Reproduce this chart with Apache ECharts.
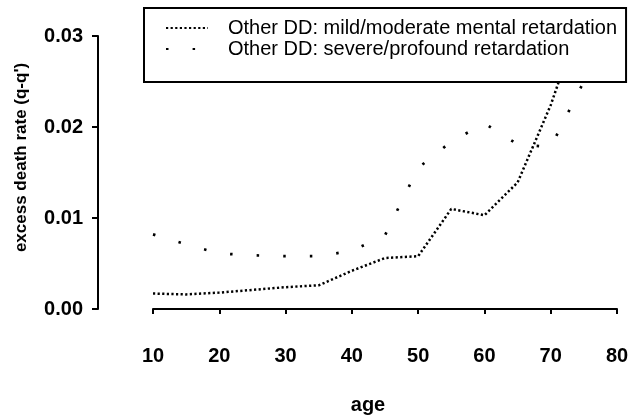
<!DOCTYPE html>
<html><head><meta charset="utf-8">
<script src="https://cdn.jsdelivr.net/npm/echarts@6/dist/echarts.min.js"></script>
<style>html,body{margin:0;padding:0;background:#fff}#c{width:629px;height:415px}</style>
</head><body><div id="c"></div>
<script>
const ages = [10, 15, 20, 25, 30, 35, 40, 45, 50, 55, 60, 65, 70, 75];
const mildModerate = [0.0017, 0.0016, 0.0018, 0.0021, 0.0024, 0.0026, 0.0042, 0.0056, 0.0058, 0.0110, 0.0103, 0.0139, 0.0224, 0.0330];
const severeProfound = [0.0082, 0.0071, 0.0061, 0.0059, 0.0058, 0.0058, 0.0064, 0.0081, 0.0155, 0.0184, 0.0204, 0.0181, 0.0178, 0.0250];
const seriesNames = ['Other DD: mild/moderate mental retardation', 'Other DD: severe/profound retardation'];
const xTickLabels = ['10', '20', '30', '40', '50', '60', '70', '80'];
const yTickLabels = ['0.00', '0.01', '0.02', '0.03'];
const xTitle = 'age';
const yTitle = "excess death rate (q-q')";

const FONT = "'Liberation Sans', Arial, Helvetica, sans-serif";
const chart = echarts.init(document.getElementById('c'), null, {renderer: 'canvas'});
const pairs = (vals) => ages.map((a, i) => [a, vals[i]]);

chart.setOption({
  animation: false,
  backgroundColor: '#ffffff',
  grid: {left: 153, right: 12, top: 36, bottom: 106, containLabel: false, outerBoundsMode: 'none'},
  legend: {
    orient: 'vertical',
    left: 144,
    top: 8,
    padding: [9.5, 9, 22.5, 21],
    itemWidth: 42,
    itemHeight: 14,
    itemGap: 0,
    backgroundColor: '#ffffff',
    borderColor: '#000000',
    borderWidth: 2,
    borderRadius: 0,
    itemStyle: {opacity: 0},
    textStyle: {fontFamily: FONT, fontSize: 20, color: '#000', lineHeight: 21, padding: [0, 0, 0, 15]},
    data: seriesNames
  },
  xAxis: {
    type: 'value',
    min: 10, max: 80, interval: 10,
    offset: 14,
    name: xTitle,
    nameLocation: 'middle',
    nameGap: 72,
    nameTextStyle: {fontFamily: FONT, fontSize: 20, fontWeight: 'bold', color: '#000', padding: [0, 34, 0, 0]},
    axisLine: {show: true, lineStyle: {color: '#000', width: 2}},
    axisTick: {show: true, length: 5, lineStyle: {color: '#000', width: 2}},
    axisLabel: {fontFamily: FONT, fontSize: 20, fontWeight: 'bold', color: '#000', margin: 23,
      formatter: (v) => xTickLabels[Math.round((v - 10) / 10)] ?? ''},
    splitLine: {show: false}
  },
  yAxis: {
    type: 'value',
    min: 0, max: 0.03, interval: 0.01,
    offset: 55,
    name: yTitle,
    nameLocation: 'middle',
    nameGap: 68,
    nameTextStyle: {fontFamily: FONT, fontSize: 17, fontWeight: 'bold', color: '#000', padding: [0, 0, 0, 30]},
    axisLine: {show: true, lineStyle: {color: '#000', width: 2}},
    axisTick: {show: true, length: 6, lineStyle: {color: '#000', width: 2}},
    axisLabel: {fontFamily: FONT, fontSize: 20, fontWeight: 'bold', color: '#000', margin: 15,
      formatter: (v) => yTickLabels[Math.round(v / 0.01)] ?? ''},
    splitLine: {show: false}
  },
  series: [
    {
      name: seriesNames[0], type: 'line', data: pairs(mildModerate),
      symbol: 'none', smooth: false,
      lineStyle: {color: '#000', width: 2.5, type: [2.2, 2.4], cap: 'butt'},
      itemStyle: {color: '#000'}
    },
    {
      name: seriesNames[1], type: 'line', data: pairs(severeProfound),
      symbol: 'none', smooth: false,
      lineStyle: {color: '#000', width: 2.7, type: [2.5, 24.1], cap: 'butt'},
      itemStyle: {color: '#000'}
    }
  ]
});
</script></body></html>
